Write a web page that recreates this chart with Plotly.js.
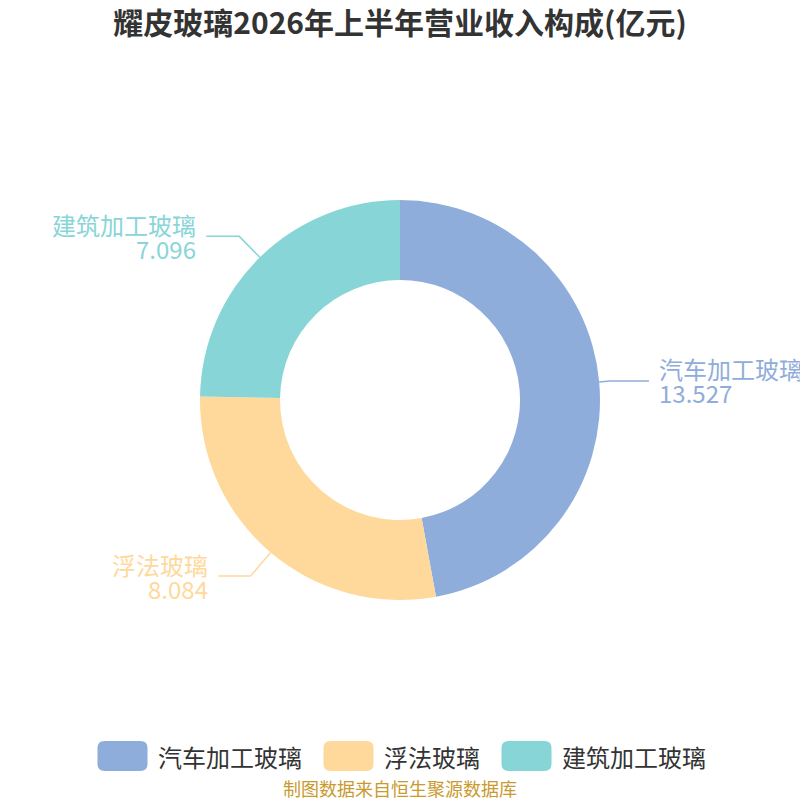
<!DOCTYPE html>
<html>
<head>
<meta charset="utf-8">
<script src="https://cdn.plot.ly/plotly-3.0.1.min.js"></script>
<style>
  html, body { margin: 0; padding: 0; background: #fff; }
  #chart { width: 800px; height: 800px; }
</style>
</head>
<body>
<div id="chart"></div>
<script>
// data
var categories = ['汽车加工玻璃', '浮法玻璃', '建筑加工玻璃'];
var values = [13.527, 8.084, 7.096];
var colors = ['#8FADDB', '#FFD99B', '#88D5D8'];

var titleText = '耀皮玻璃2026年上半年营业收入构成(亿元)';
var sourceText = '制图数据来自恒生聚源数据库';

// geometry in pixels (margins are zero, so paper = pixels / 800)
var W = 800, H = 800;
var cx = 400, cy = 400, R = 200;
var font = '"Noto Sans CJK SC", "Noto Sans", sans-serif';

function px(x) { return x / W; }
function py(y) { return 1 - y / H; }

var total = values.reduce(function (a, b) { return a + b; }, 0);

var shapes = [];
var annotations = [];

// outside labels with leader lines
var acc = 0;
values.forEach(function (v, i) {
  var mid = (acc + v / 2) / total * 2 * Math.PI;
  acc += v;
  var sx = Math.sin(mid), sy = -Math.cos(mid);
  var seg1 = 8 + 30 * Math.abs(sy);
  var seg2 = 30 + 10 * (1 - Math.abs(sy));
  var x0 = cx + R * sx, y0 = cy + R * sy;
  var x1 = cx + (R + seg1) * sx, y1 = cy + (R + seg1) * sy;
  var right = sx >= 0;
  var x2 = x1 + (right ? seg2 : -seg2);
  shapes.push({
    type: 'path', xref: 'paper', yref: 'paper',
    path: 'M' + px(x0) + ',' + py(y0) + ' L' + px(x1) + ',' + py(y1) + ' L' + px(x2) + ',' + py(y1),
    line: {color: colors[i], width: 1.5}
  });
  var tx = x2 + (right ? 9 : -9);
  [categories[i], values[i].toFixed(3)].forEach(function (t, k) {
    annotations.push({
      xref: 'paper', yref: 'paper',
      x: px(tx), y: py(y1 + (k === 0 ? -12 : 12)),
      xanchor: right ? 'left' : 'right', yanchor: 'middle',
      text: t, showarrow: false, borderpad: 0,
      font: {family: font, size: 24, color: colors[i]}
    });
  });
});

// custom legend with rounded swatches
var swW = 50, swH = 30, swGap = 11, itemGap = 21, charW = 24, legY = 756, rr = 7;
var widths = categories.map(function (c) { return swW + swGap + c.length * charW; });
var legTotal = widths.reduce(function (a, b) { return a + b; }, 0) + itemGap * (categories.length - 1);
var lx = cx - legTotal / 2 + 2;
categories.forEach(function (c, i) {
  var x0 = lx, x1 = lx + swW, y0 = legY - swH / 2, y1 = legY + swH / 2;
  var p = 'M' + px(x0 + rr) + ',' + py(y0) +
    ' L' + px(x1 - rr) + ',' + py(y0) +
    ' Q' + px(x1) + ',' + py(y0) + ' ' + px(x1) + ',' + py(y0 + rr) +
    ' L' + px(x1) + ',' + py(y1 - rr) +
    ' Q' + px(x1) + ',' + py(y1) + ' ' + px(x1 - rr) + ',' + py(y1) +
    ' L' + px(x0 + rr) + ',' + py(y1) +
    ' Q' + px(x0) + ',' + py(y1) + ' ' + px(x0) + ',' + py(y1 - rr) +
    ' L' + px(x0) + ',' + py(y0 + rr) +
    ' Q' + px(x0) + ',' + py(y0) + ' ' + px(x0 + rr) + ',' + py(y0) + ' Z';
  shapes.push({
    type: 'path', xref: 'paper', yref: 'paper', path: p,
    fillcolor: colors[i], line: {width: 0}
  });
  annotations.push({
    xref: 'paper', yref: 'paper',
    x: px(x1 + swGap - 2), y: py(legY),
    xanchor: 'left', yanchor: 'middle',
    text: c, showarrow: false, borderpad: 0,
    font: {family: font, size: 24, color: '#333333'}
  });
  lx += widths[i] + itemGap;
});

// source note
annotations.push({
  xref: 'paper', yref: 'paper',
  x: 0.5, y: py(788), xanchor: 'center', yanchor: 'middle',
  text: sourceText, showarrow: false, borderpad: 0,
  font: {family: font, size: 18, color: '#C99A2E'}
});

var data = [{
  type: 'pie',
  labels: categories,
  values: values,
  hole: 0.6,
  sort: false,
  direction: 'clockwise',
  rotation: 0,
  textinfo: 'none',
  hoverinfo: 'label+value',
  marker: {colors: colors, line: {width: 0}},
  domain: {x: [px(cx - R), px(cx + R)], y: [py(cy + R), py(cy - R)]}
}];

var layout = {
  width: W,
  height: H,
  margin: {l: 0, r: 0, t: 0, b: 0},
  paper_bgcolor: '#ffffff',
  showlegend: false,
  font: {family: font},
  title: {
    text: '<b>' + titleText + '</b>',
    x: 0.5, xanchor: 'center',
    y: py(23), yanchor: 'middle',
    font: {family: font, size: 30, color: '#333333'}
  },
  shapes: shapes,
  annotations: annotations
};

Plotly.newPlot('chart', data, layout, {displayModeBar: false, staticPlot: true});
</script>
</body>
</html>
